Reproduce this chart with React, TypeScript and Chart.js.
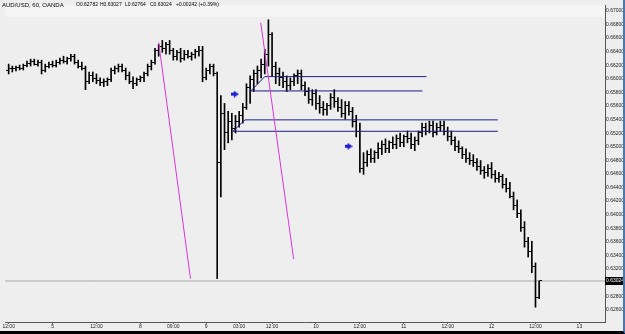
import React, { useEffect, useRef } from "react";
import { Chart, registerables } from "chart.js";

Chart.register(...registerables);

const symbolTitle = "AUD/USD, 60, OANDA";
const headerValues = ["O0.62782", "H0.63027", "L0.62764", "C0.63024", "+0.00242 (+0.39%)"];

const barOpen = [
  0.66130, 0.66159, 0.66145, 0.66174, 0.66159, 0.66203, 0.66232, 0.66261, 0.66217, 0.66246,
  0.66130, 0.66188, 0.66217, 0.66203, 0.66246, 0.66275, 0.66261, 0.66304, 0.66333, 0.66246,
  0.66188, 0.66159, 0.65957, 0.66043, 0.66000, 0.65971, 0.65942, 0.65957, 0.65986, 0.66130,
  0.66159, 0.66188, 0.66130, 0.66043, 0.65957, 0.65928, 0.65986, 0.66014, 0.66072, 0.66188,
  0.66246, 0.66420, 0.66478, 0.66449, 0.66507, 0.66420, 0.66333, 0.66391, 0.66304, 0.66362,
  0.66333, 0.66362, 0.66406, 0.66420, 0.66014, 0.66130, 0.66188, 0.66072, 0.64768, 0.65493,
  0.65203, 0.65377, 0.65275, 0.65377, 0.65464, 0.65580, 0.65870, 0.65986, 0.66072, 0.66130,
  0.66217, 0.66362, 0.66652, 0.66188, 0.66072, 0.66014, 0.65957, 0.65899, 0.65957, 0.66043,
  0.66072, 0.65899, 0.65812, 0.65696, 0.65783, 0.65638, 0.65580, 0.65551, 0.65609, 0.65725,
  0.65667, 0.65580, 0.65493, 0.65609, 0.65522, 0.65377, 0.65232, 0.64681, 0.64768, 0.64884,
  0.64826, 0.64913, 0.64971, 0.65029, 0.64971, 0.65058, 0.65029, 0.65116, 0.65058, 0.65145,
  0.65116, 0.65029, 0.65087, 0.65203, 0.65290, 0.65232, 0.65319, 0.65203, 0.65290, 0.65319,
  0.65232, 0.65145, 0.65087, 0.65000, 0.64971, 0.64884, 0.64826, 0.64797, 0.64768, 0.64710,
  0.64652, 0.64623, 0.64681, 0.64594, 0.64536, 0.64565, 0.64449, 0.64391, 0.64275, 0.64130,
  0.64014, 0.63812, 0.63609, 0.63464, 0.63232, 0.62782,
];
const barHigh = [
  0.66217, 0.66188, 0.66188, 0.66203, 0.66217, 0.66261, 0.66290, 0.66290, 0.66275, 0.66275,
  0.66217, 0.66246, 0.66261, 0.66275, 0.66304, 0.66333, 0.66319, 0.66362, 0.66362, 0.66275,
  0.66246, 0.66188, 0.66101, 0.66101, 0.66072, 0.66014, 0.66000, 0.66014, 0.66159, 0.66188,
  0.66217, 0.66217, 0.66159, 0.66101, 0.66029, 0.66014, 0.66043, 0.66101, 0.66217, 0.66275,
  0.66449, 0.66507, 0.66565, 0.66536, 0.66565, 0.66449, 0.66420, 0.66449, 0.66420, 0.66420,
  0.66391, 0.66435, 0.66478, 0.66478, 0.66159, 0.66217, 0.66217, 0.66101, 0.65754, 0.65638,
  0.65522, 0.65493, 0.65464, 0.65522, 0.65638, 0.65928, 0.66043, 0.66130, 0.66188, 0.66290,
  0.66435, 0.66870, 0.66681, 0.66246, 0.66159, 0.66101, 0.66043, 0.66014, 0.66072, 0.66130,
  0.66130, 0.65957, 0.65870, 0.65841, 0.65841, 0.65754, 0.65667, 0.65638, 0.65783, 0.65841,
  0.65725, 0.65696, 0.65667, 0.65667, 0.65580, 0.65464, 0.65348, 0.64913, 0.64942, 0.64971,
  0.64942, 0.65058, 0.65087, 0.65116, 0.65087, 0.65145, 0.65174, 0.65203, 0.65174, 0.65232,
  0.65203, 0.65145, 0.65232, 0.65348, 0.65348, 0.65377, 0.65377, 0.65348, 0.65377, 0.65377,
  0.65290, 0.65232, 0.65145, 0.65087, 0.65000, 0.64971, 0.64913, 0.64884, 0.64826, 0.64797,
  0.64710, 0.64739, 0.64768, 0.64652, 0.64623, 0.64594, 0.64536, 0.64478, 0.64333, 0.64217,
  0.64072, 0.63899, 0.63667, 0.63609, 0.63290, 0.63027,
];
const barLow = [
  0.66072, 0.66101, 0.66116, 0.66130, 0.66130, 0.66174, 0.66188, 0.66203, 0.66188, 0.66072,
  0.66101, 0.66159, 0.66174, 0.66174, 0.66217, 0.66232, 0.66217, 0.66261, 0.66217, 0.66159,
  0.66130, 0.65841, 0.65928, 0.65957, 0.65928, 0.65899, 0.65884, 0.65899, 0.65957, 0.66072,
  0.66101, 0.66101, 0.65986, 0.65928, 0.65855, 0.65899, 0.65957, 0.65957, 0.66043, 0.66130,
  0.66217, 0.66333, 0.66391, 0.66362, 0.66362, 0.66275, 0.66275, 0.66246, 0.66275, 0.66304,
  0.66275, 0.66304, 0.66333, 0.65957, 0.65986, 0.66072, 0.66043, 0.63058, 0.64261, 0.64957,
  0.65058, 0.65101, 0.65203, 0.65290, 0.65348, 0.65551, 0.65638, 0.65812, 0.65928, 0.66014,
  0.66072, 0.66188, 0.66043, 0.65928, 0.65899, 0.65870, 0.65812, 0.65841, 0.65899, 0.65928,
  0.65841, 0.65754, 0.65638, 0.65609, 0.65551, 0.65493, 0.65464, 0.65464, 0.65551, 0.65580,
  0.65522, 0.65435, 0.65406, 0.65464, 0.65290, 0.65145, 0.64623, 0.64594, 0.64710, 0.64768,
  0.64768, 0.64826, 0.64884, 0.64913, 0.64913, 0.64971, 0.64971, 0.65000, 0.65000, 0.65058,
  0.64971, 0.64942, 0.65029, 0.65145, 0.65174, 0.65203, 0.65145, 0.65174, 0.65232, 0.65174,
  0.65087, 0.65029, 0.64942, 0.64913, 0.64826, 0.64768, 0.64739, 0.64710, 0.64652, 0.64594,
  0.64536, 0.64565, 0.64536, 0.64478, 0.64478, 0.64391, 0.64333, 0.64246, 0.64072, 0.63957,
  0.63754, 0.63522, 0.63377, 0.63145, 0.62638, 0.62764,
];
const barClose = [
  0.66159, 0.66145, 0.66174, 0.66159, 0.66203, 0.66232, 0.66261, 0.66217, 0.66246, 0.66130,
  0.66188, 0.66217, 0.66203, 0.66246, 0.66275, 0.66261, 0.66304, 0.66333, 0.66246, 0.66188,
  0.66159, 0.65957, 0.66043, 0.66000, 0.65971, 0.65942, 0.65957, 0.65986, 0.66130, 0.66159,
  0.66188, 0.66130, 0.66043, 0.65957, 0.65928, 0.65986, 0.66014, 0.66072, 0.66188, 0.66246,
  0.66420, 0.66478, 0.66449, 0.66507, 0.66420, 0.66333, 0.66391, 0.66304, 0.66362, 0.66333,
  0.66362, 0.66406, 0.66420, 0.66014, 0.66130, 0.66188, 0.66072, 0.64768, 0.65493, 0.65203,
  0.65377, 0.65275, 0.65377, 0.65464, 0.65580, 0.65870, 0.65986, 0.66072, 0.66130, 0.66217,
  0.66362, 0.66652, 0.66188, 0.66072, 0.66014, 0.65957, 0.65899, 0.65957, 0.66043, 0.66072,
  0.65899, 0.65812, 0.65696, 0.65783, 0.65638, 0.65580, 0.65551, 0.65609, 0.65725, 0.65667,
  0.65580, 0.65493, 0.65609, 0.65522, 0.65377, 0.65232, 0.64681, 0.64768, 0.64884, 0.64826,
  0.64913, 0.64971, 0.65029, 0.64971, 0.65058, 0.65029, 0.65116, 0.65058, 0.65145, 0.65116,
  0.65029, 0.65087, 0.65203, 0.65290, 0.65232, 0.65319, 0.65203, 0.65290, 0.65319, 0.65232,
  0.65145, 0.65087, 0.65000, 0.64971, 0.64884, 0.64826, 0.64797, 0.64768, 0.64710, 0.64652,
  0.64623, 0.64681, 0.64594, 0.64536, 0.64565, 0.64449, 0.64391, 0.64275, 0.64130, 0.64014,
  0.63812, 0.63609, 0.63464, 0.63232, 0.62783, 0.63024,
];

const xTickIndex = [0, 12, 24, 36, 45, 54, 63, 72, 84, 96, 108, 120, 132, 144, 156];
const xTickLabels = ["12:00", "5", "12:00", "8", "09:00", "9", "03:00", "12:00", "10", "12:00", "11", "12:00", "12", "12:00", "13"];
const yTickValues = [
  0.670, 0.668, 0.666, 0.664, 0.662, 0.660, 0.658, 0.656, 0.654, 0.652, 0.650, 0.648,
  0.646, 0.644, 0.642, 0.640, 0.638, 0.636, 0.634, 0.632, 0.630, 0.628, 0.626,
];
const xRange = [-1, 163];
const yRange = [0.624203, 0.67087];

const magentaLine1 = [{ x: 41.0, y: 0.66536 }, { x: 49.7, y: 0.63058 }];
const magentaLine2 = [{ x: 68.9, y: 0.66826 }, { x: 77.9, y: 0.63348 }];
const upperBoxTop = [{ x: 70.0, y: 0.66033 }, { x: 114.2, y: 0.66033 }];
const upperBoxBottom = [{ x: 66.2, y: 0.65822 }, { x: 113.1, y: 0.65822 }];
const upperBoxLink = [{ x: 66.2, y: 0.65822 }, { x: 70.0, y: 0.66033 }];
const lowerBoxTop = [{ x: 64.6, y: 0.65396 }, { x: 133.7, y: 0.65396 }];
const lowerBoxBottom = [{ x: 61.3, y: 0.65228 }, { x: 133.7, y: 0.65228 }];
const lowerBoxLink = [{ x: 61.3, y: 0.65228 }, { x: 64.6, y: 0.65396 }];
const arrowPoints = [{ x: 61.8, y: 0.65775 }, { x: 92.9, y: 0.65007 }];
const lastPrice = 0.63024;

const FONT = '"Liberation Sans", Arial, sans-serif';

export default function App() {
  const ref = useRef<HTMLCanvasElement>(null);

  useEffect(() => {
    const canvas = ref.current;
    if (!canvas) return;
    const mk = (w: number, h: number, draw: (g: CanvasRenderingContext2D) => void) => {
      const c = document.createElement("canvas");
      c.width = w;
      c.height = h;
      const g = c.getContext("2d");
      if (g) draw(g);
      return c;
    };
    const openTick = mk(5, 1, (g) => { g.fillStyle = "#000"; g.fillRect(0, 0, 2, 1); });
    const closeTick = mk(5, 1, (g) => { g.fillStyle = "#000"; g.fillRect(3, 0, 2, 1); });
    const arrowImg = mk(8, 7, (g) => {
      g.fillStyle = "#1f1fd6";
      g.fillRect(0, 2, 4, 3);
      g.beginPath();
      g.moveTo(3, 0);
      g.lineTo(8, 3.5);
      g.lineTo(3, 7);
      g.closePath();
      g.fill();
    });

    const n = barHigh.length;
    const idx = Array.from({ length: n }, (_, i) => i);
    const lineDs = (data: any[], color: string) => ({
      type: "line" as const,
      data,
      borderColor: color,
      borderWidth: 1,
      pointRadius: 0,
      tension: 0,
      fill: false,
      order: 0,
    });

    const decor = {
      id: "decor",
      beforeDraw(chart: any) {
        const { ctx, chartArea } = chart;
        ctx.save();
        ctx.fillStyle = "#f5f5f5";
        ctx.fillRect(chartArea.left, chartArea.top, chartArea.right - chartArea.left, 12);
        ctx.restore();
      },
      afterDraw(chart: any) {
        const { ctx, chartArea, scales } = chart;
        ctx.save();
        const py = scales.y.getPixelForValue(lastPrice);
        ctx.fillStyle = "#000";
        ctx.fillRect(chartArea.right, Math.round(py) - 4, chart.width - chartArea.right, 8);
        ctx.fillStyle = "#fff";
        ctx.font = `5px ${FONT}`;
        ctx.textBaseline = "middle";
        ctx.textAlign = "left";
        ctx.fillText(lastPrice.toFixed(5), chartArea.right + 1, Math.round(py));
        ctx.fillStyle = "#000";
        ctx.font = `6px ${FONT}`;
        ctx.fillText(symbolTitle, 2, 5);
        ctx.font = `5px ${FONT}`;
        const xs = [76, 100, 125, 150, 176];
        headerValues.forEach((t, i) => ctx.fillText(t, xs[i], 5));
        ctx.restore();
      },
    };

    const chart = new Chart(canvas, {
      type: "bar",
      data: {
        datasets: [
          lineDs(magentaLine1, "#d936d9"),
          lineDs(magentaLine2, "#d936d9"),
          lineDs(upperBoxTop, "#1c1c8c"),
          lineDs(upperBoxBottom, "#1c1c8c"),
          lineDs(upperBoxLink, "#1c1c8c"),
          lineDs(lowerBoxTop, "#1c1c8c"),
          lineDs(lowerBoxBottom, "#1c1c8c"),
          lineDs(lowerBoxLink, "#1c1c8c"),
          {
            type: "line" as const,
            data: arrowPoints,
            showLine: false,
            pointStyle: arrowImg as any,
            pointRadius: 3,
            order: 0,
          },
          {
            type: "line" as const,
            data: idx.map((i) => ({ x: i, y: barOpen[i] })),
            showLine: false,
            pointStyle: openTick as any,
            pointRadius: 1,
            order: 1,
          },
          {
            type: "line" as const,
            data: idx.map((i) => ({ x: i, y: barClose[i] })),
            showLine: false,
            pointStyle: closeTick as any,
            pointRadius: 1,
            order: 1,
          },
          {
            type: "bar" as const,
            data: idx.map((i) => ({ x: i, y: [barLow[i], barHigh[i]] })) as any,
            backgroundColor: "#000",
            borderWidth: 0,
            barThickness: 1,
            order: 2,
          },
          {
            type: "line" as const,
            data: [{ x: xRange[0], y: lastPrice }, { x: xRange[1], y: lastPrice }],
            borderColor: "#a8a8a8",
            borderWidth: 1,
            pointRadius: 0,
            order: 3,
          },
        ] as any,
      },
      options: {
        animation: false,
        responsive: false,
        events: [],
        layout: { padding: 0 },
        plugins: { legend: { display: false }, tooltip: { enabled: false } },
        scales: {
          x: {
            type: "linear",
            position: "bottom",
            min: xRange[0],
            max: xRange[1],
            offset: false,
            afterBuildTicks: (s: any) => { s.ticks = xTickIndex.map((v) => ({ value: v })); },
            afterFit: (s: any) => { s.height = 9; s.paddingLeft = 0; s.paddingRight = 0; },
            grid: { drawOnChartArea: false, drawTicks: true, tickLength: 2, color: "#666", offset: false },
            border: { display: true, color: "#555" },
            ticks: {
              autoSkip: false,
              maxRotation: 0,
              minRotation: 0,
              padding: 0,
              color: "#222",
              font: { size: 5, family: FONT },
              callback: (_v: any, i: number) => xTickLabels[i],
            },
          },
          y: {
            type: "linear",
            position: "right",
            min: yRange[0],
            max: yRange[1],
            afterBuildTicks: (s: any) => { s.ticks = yTickValues.map((v) => ({ value: v })); },
            afterFit: (s: any) => { s.width = 18; s.paddingTop = 0; s.paddingBottom = 0; },
            grid: { drawOnChartArea: false, drawTicks: true, tickLength: 1, color: "#666" },
            border: { display: true, color: "#555" },
            ticks: {
              padding: 0,
              color: "#222",
              font: { size: 5, family: FONT },
              callback: (v: any) => Number(v).toFixed(5),
            },
          },
        },
      } as any,
      plugins: [decor],
    });
    return () => chart.destroy();
  }, []);

  return (
    <div
      style={{
        position: "fixed",
        left: 0,
        top: 0,
        width: 625,
        height: 334,
        boxSizing: "border-box",
        borderRight: "2px solid #4a78b0",
        borderBottom: "3px solid #000",
        background: "#eeeeee",
      }}
    >
      <canvas ref={ref} width={623} height={331} style={{ display: "block", width: 623, height: 331 }} />
    </div>
  );
}
